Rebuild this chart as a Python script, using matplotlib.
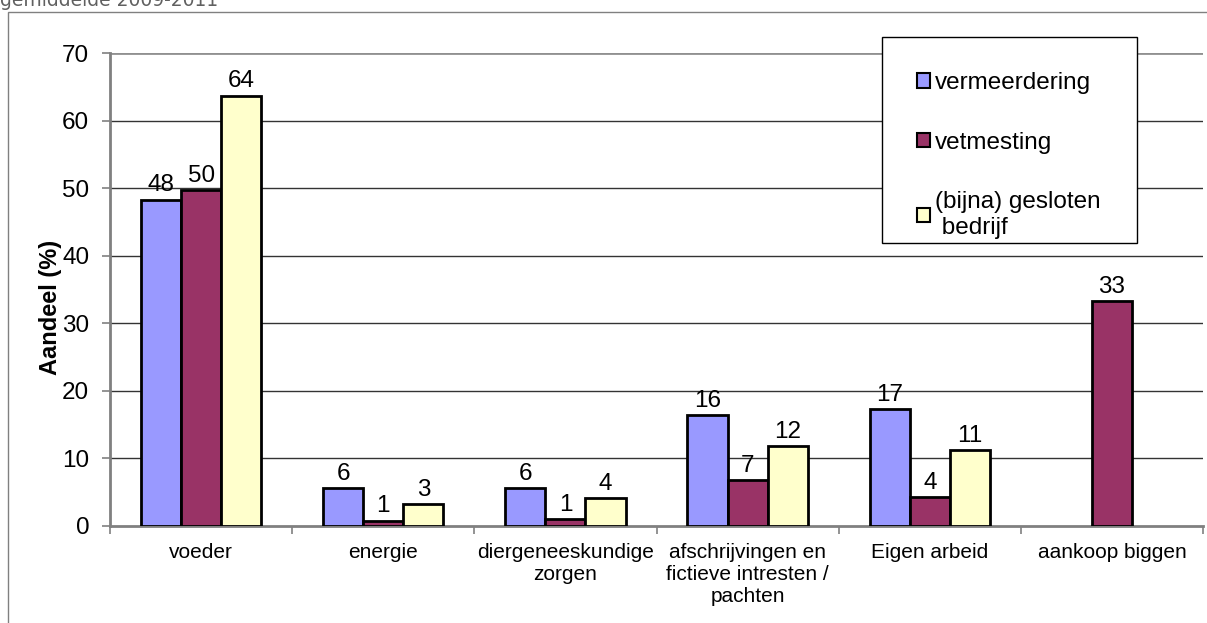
import numpy as np
import matplotlib.pyplot as plt
from matplotlib.patches import Rectangle

plt.rcParams['font.family'] = ['Liberation Sans', 'DejaVu Sans']

categories = ['voeder', 'energie', 'diergeneeskundige\nzorgen',
              'afschrijvingen en\nfictieve intresten /\npachten',
              'Eigen arbeid', 'aankoop biggen']
series_names = ['vermeerdering', 'vetmesting', '(bijna) gesloten\n bedrijf']
vermeerdering = [48.3, 5.6, 5.6, 16.4, 17.3, np.nan]
vetmesting = [49.7, 0.8, 1.0, 6.8, 4.3, 33.3]
gesloten = [63.7, 3.2, 4.1, 11.8, 11.2, np.nan]
colors = ['#9999ff', '#993366', '#ffffcc']

W, H = 1207, 623
fig = plt.figure(figsize=(W / 100, H / 100), dpi=100)

# outer frame of the chart object
fig.patches.append(Rectangle((8 / W, -0.1), 1.2, 1.1 - 12 / H, transform=fig.transFigure,
                             fill=False, edgecolor='#808080', lw=1))
fig.text(0.0, 1 - 6 / H, 'gemiddelde 2009-2011', family='DejaVu Sans',
         fontsize=13.5, color='#606060', va='baseline')

ax = fig.add_axes([110 / W, 1 - 526 / H, (1203 - 110) / W, (526 - 53) / H])

x = np.arange(len(categories))
bw = 0.22
for i, (vals, c, name) in enumerate(zip([vermeerdering, vetmesting, gesloten], colors, series_names)):
    pos = x + (i - 1) * bw
    ax.bar(pos, vals, bw, color=c, edgecolor='black', lw=2, label=name, zorder=3)
    for p, v in zip(pos, vals):
        if np.isnan(v):
            continue
        ax.annotate(f'{v:.0f}', (p, v), xytext=(0, 6), textcoords='offset points',
                    ha='center', va='baseline', fontsize=17.5)

ax.set_xlim(-0.5, len(categories) - 0.5)
ax.set_ylim(0, 70)
ax.set_yticks(range(0, 71, 10))
ax.tick_params(axis='y', labelsize=17.5, length=6, color='#808080', width=1.2, pad=9)
ax.set_xticks(np.arange(-0.5, len(categories), 1))
ax.set_xticklabels([])
ax.set_xticks(x, minor=True)
ax.set_xticklabels(categories, minor=True, fontsize=15, linespacing=1.2)
ax.tick_params(axis='x', which='major', length=6, color='#808080', width=1.2)
ax.tick_params(axis='x', which='minor', length=0, pad=12)

for y in range(10, 70, 10):
    ax.axhline(y, color='#333333', lw=1, zorder=1)
ax.axhline(70, color='#909090', lw=2, zorder=1)

for s in ['top', 'right']:
    ax.spines[s].set_visible(False)
for s in ['left', 'bottom']:
    ax.spines[s].set_color('#808080')
    ax.spines[s].set_linewidth(2)

# axis title sits over the tick labels, as in the original
ax.set_ylabel('Aandeel (%)', fontsize=17, fontweight='bold')
ax.yaxis.set_label_coords((62 - 110) / 1093, (526 - 307) / 473)

# legend box drawn separately so its size matches
ax.add_patch(Rectangle((882 / W, 1 - 243 / H), (1137 - 882) / W, (243 - 37) / H,
                       transform=fig.transFigure, facecolor='white', clip_on=False,
                       edgecolor='black', lw=1, zorder=5))
leg = ax.legend(loc='upper left', bbox_to_anchor=(917 / W, 1 - 72 / H),
                bbox_transform=fig.transFigure, fontsize=17.5, frameon=False,
                handlelength=0.55, handleheight=0.55, handletextpad=0.2,
                labelspacing=1.55, borderpad=0, borderaxespad=0)
leg.set_zorder(6)
for h in leg.legend_handles:
    h.set_linewidth(1.5)

fig.savefig('out.png', dpi=100)
